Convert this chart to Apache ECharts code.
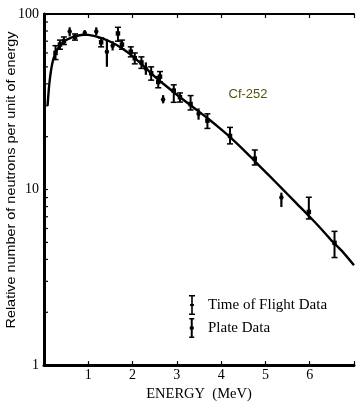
<!DOCTYPE html>
<html><head><meta charset="utf-8">
<script src="https://cdn.jsdelivr.net/npm/echarts@6/dist/echarts.min.js"></script>
<style>html,body{margin:0;padding:0;background:#fff}#c{width:357px;height:407px}</style>
</head><body><div id="c"></div>
<script>
// Fitted curve (energy MeV, relative neutrons)
const curveE = [0.08,0.10,0.12,0.16,0.20,0.25,0.30,0.40,0.50,0.60,0.70,0.80,0.90,1.00,1.25,1.50,1.75,2.00,2.25,2.50,2.75,3.00,3.25,3.50,3.75,4.00,4.25,4.50,4.75,5.00,5.25,5.50,5.75,6.00,6.25,6.50,6.75,7.00];
const curveV = [30,35,40,48,54,59,63,67.5,71,73,74.5,75.7,76.2,76,73.5,69.5,64,57.5,50.5,44,39,34.7,31,27.8,24.8,22,19.4,16.9,14.6,12.6,10.9,9.4,8.1,7.0,6.0,5.1,4.4,3.7];

// Time of Flight data
const tofE  = [0.26,0.36,0.45,0.70,1.29,1.67,1.76,1.96,2.05,2.20,2.42,2.58,2.62,2.93,3.07,3.31,3.69,4.20,4.76,5.98,6.56];
const tofV  = [60,67,70,74,69,77.5,67,61,56,53,46,41,44,36.6,33.6,30.7,24.7,20.2,15.0,7.46,4.97];
const tofLo = [55,63,67,71,65,70,63,57,52,49,42,38,41,31.4,31.5,28.4,22.3,18.2,13.8,6.8,4.1];
const tofHi = [66,71,74,77,73,84,71,65,60,57,50,44,47,39.5,35.5,34.3,27,22.6,16.8,9.04,5.78];

// Plate data
const plateE  = [0.58,0.92,1.18,1.42,1.55,2.30,2.69,3.49,5.36];
const plateV  = [79.5,78,79.5,61,66,49,32.6,27.0,9.0];
const plateLo = [74.5,75,75.5,50,62,45,31,25,7.95];
const plateHi = [84,81,84,72,70,53,34.5,29,9.6];

// Log-scale minor tick values on the vertical axis
const minorTickValues = [2,3,4,5,6,7,8,9,20,30,40,50,60,70,80,90];

const xTicks = [1,2,3,4,5,6];

const curveData = curveE.map((e,i)=>[e,curveV[i]]);
const tofData = tofE.map((e,i)=>[e,tofV[i],tofLo[i],tofHi[i]]);
const plateData = plateE.map((e,i)=>[e,plateV[i],plateLo[i],plateHi[i]]);
const minorData = minorTickValues.map(v=>[0,v]);

function errRender(capW, mk, lw, dot){
  return function(params, api){
    const x=api.value(0), v=api.value(1), lo=api.value(2), hi=api.value(3);
    const p=api.coord([x,v]), pl=api.coord([x,lo]), ph=api.coord([x,hi]);
    const st={stroke:'#000',lineWidth:lw};
    const ch=[
      {type:'line',shape:{x1:p[0],y1:ph[1],x2:p[0],y2:pl[1]},style:st},
    ];
    if(capW>0){
      ch.push({type:'line',shape:{x1:p[0]-capW/2,y1:ph[1],x2:p[0]+capW/2,y2:ph[1]},style:{stroke:'#000',lineWidth:1.5}});
      ch.push({type:'line',shape:{x1:p[0]-capW/2,y1:pl[1],x2:p[0]+capW/2,y2:pl[1]},style:{stroke:'#000',lineWidth:1.5}});
    }
    if(dot){
      ch.push({type:'circle',shape:{cx:p[0],cy:p[1],r:mk/2},style:{fill:'#000'}});
    } else {
      ch.push({type:'rect',shape:{x:p[0]-mk/2,y:p[1]-mk/2,width:mk,height:mk},style:{fill:'#000'}});
    }
    return {type:'group',children:ch};
  };
}

const chart = echarts.init(document.getElementById('c'), null, {renderer:'canvas'});
const serif = '"Liberation Serif","DejaVu Serif",serif';
const iconTof = 'path://M0,0h6v1.4h-2.2v7.6h1.2v2h-1.2v7.6h2.2v1.4h-6v-1.4h2.2v-7.6h-1.2v-2h1.2v-7.6h-2.2z M14,10h0.01v0.01h-0.01z';
const iconPlate = 'path://M0.5,0h5v1.4h-1.5v7.1h1v3h-1v7.1h1.5v1.4h-5v-1.4h1.5v-7.1h-1v-3h1v-7.1h-1.5z M14,10h0.01v0.01h-0.01z';

chart.setOption({
  animation:false,
  backgroundColor:'#fff',
  grid:{left:44,top:14,right:0,bottom:31,containLabel:false},
  legend:{
    orient:'vertical', left:189, top:295, padding:0, itemGap:3, itemWidth:14, itemHeight:20,
    textStyle:{fontFamily:serif,fontSize:15,color:'#000'},
    data:[{name:'Time of Flight Data',icon:iconTof},{name:'Plate Data',icon:iconPlate}],
    selectedMode:false
  },
  xAxis:[{
    type:'value',min:0,max:7,interval:1,position:'bottom',
    name:'ENERGY  (MeV)',nameLocation:'middle',nameGap:17,
    nameTextStyle:{fontFamily:serif,fontSize:14.5,color:'#000'},
    axisLine:{onZero:false,lineStyle:{color:'#000',width:3}},
    axisTick:{inside:true,length:4,lineStyle:{color:'#000',width:1.2}},
    axisLabel:{margin:3,fontFamily:serif,fontSize:14,color:'#000',formatter:v=>xTicks.includes(v)?String(v):''},
    splitLine:{show:false}
  },{
    type:'value',min:0,max:7,interval:1,position:'top',
    axisLine:{onZero:false,lineStyle:{color:'#000',width:2}},
    axisTick:{inside:true,length:4,lineStyle:{color:'#000',width:1.2}},
    axisLabel:{show:false},splitLine:{show:false}
  }],
  yAxis:{
    type:'log',logBase:10,min:1,max:100,
    axisLine:{onZero:false,lineStyle:{color:'#000',width:3}},
    axisTick:{inside:true,length:4,lineStyle:{color:'#000',width:1.2}},
    axisLabel:{margin:5,fontFamily:serif,fontSize:14,color:'#000'},
    splitLine:{show:false}
  },
  graphic:[
    {type:'text',x:12,y:180,rotation:Math.PI/2,scaleX:1.2,
     style:{text:'Relative number of neutrons per unit of energy',fontFamily:'"Liberation Sans",Arial,sans-serif',fontSize:12,fill:'#000',textAlign:'center',textVerticalAlign:'middle'}},
    {type:'text',x:248,y:94,
     style:{text:'Cf-252',fontFamily:'"Liberation Sans",Arial,sans-serif',fontSize:13,fill:'#55520f',textAlign:'center',textVerticalAlign:'middle'}}
  ],
  series:[
    {type:'line',name:'curve',data:curveData,smooth:0.3,showSymbol:false,
     lineStyle:{color:'#000',width:2.4},z:2},
    {type:'custom',name:'Time of Flight Data',data:tofData,renderItem:errRender(6,4.5,2,false),
     itemStyle:{color:'#000'},encode:{x:0,y:[1,2,3]},z:3,clip:false},
    {type:'custom',name:'Plate Data',data:plateData,renderItem:errRender(0,4.5,2.2,true),
     itemStyle:{color:'#000'},encode:{x:0,y:[1,2,3]},z:3,clip:false},
    {type:'custom',name:'minor',data:minorData,clip:false,silent:true,
     renderItem:function(params,api){const p=api.coord([api.value(0),api.value(1)]);
       return {type:'line',shape:{x1:p[0],y1:p[1],x2:p[0]+4,y2:p[1]},style:{stroke:'#000',lineWidth:1.2}};},
     encode:{x:0,y:1},z:4}
  ]
});
</script></body></html>
